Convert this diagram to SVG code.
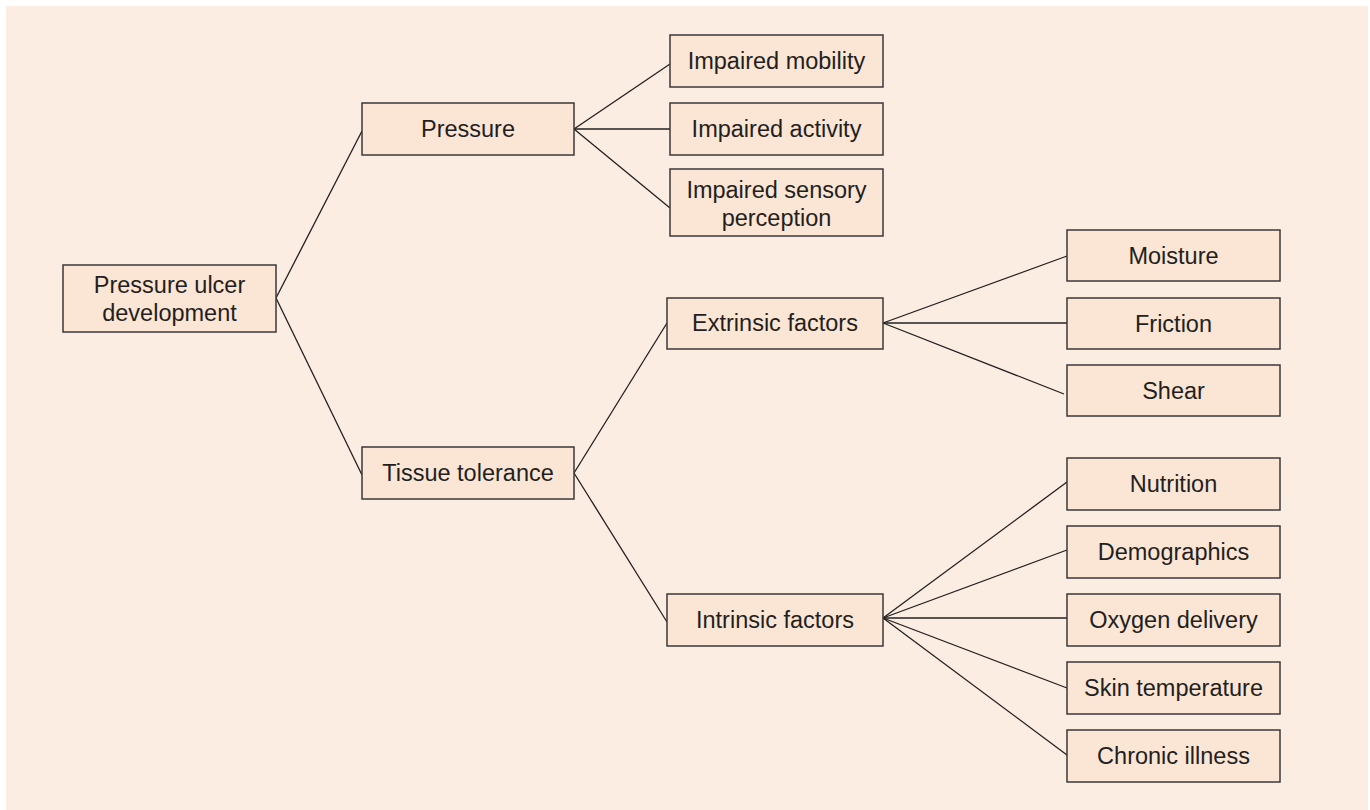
<svg xmlns="http://www.w3.org/2000/svg" width="1370" height="810" viewBox="0 0 1370 810">
<style>
.bg{fill:#fbede1}
.box{fill:#fbe5d5;stroke:#3b3838;stroke-width:1.5}
.lbl{font-family:"Liberation Sans",Arial,sans-serif;font-size:23.5px;fill:#231f20;text-anchor:middle}
.conn line{stroke:#231f20;stroke-width:1.3}
</style>
<rect width="1370" height="810" fill="#ffffff"/>
<rect class="bg" x="6" y="6" width="1362" height="804"/>
<g class="conn" id="connectors">
<line x1="276" y1="298" x2="362" y2="131"/>
<line x1="276" y1="298" x2="362" y2="475"/>
<line x1="574" y1="129" x2="670" y2="64"/>
<line x1="574" y1="129" x2="670" y2="129"/>
<line x1="574" y1="129" x2="670" y2="208"/>
<line x1="574" y1="473" x2="667" y2="323"/>
<line x1="574" y1="473" x2="667" y2="622"/>
<line x1="883" y1="323" x2="1067" y2="256"/>
<line x1="883" y1="323" x2="1067" y2="323"/>
<line x1="883" y1="323" x2="1064" y2="394"/>
<line x1="883" y1="618" x2="1067" y2="482"/>
<line x1="883" y1="618" x2="1067" y2="550"/>
<line x1="883" y1="618" x2="1067" y2="618"/>
<line x1="883" y1="618" x2="1067" y2="688"/>
<line x1="883" y1="618" x2="1067" y2="755"/>
</g>
<g id="n-root"><rect class="box" x="63" y="265" width="213" height="67"/><text class="lbl" x="169.5" y="293">Pressure ulcer</text><text class="lbl" x="169.5" y="321">development</text></g>
<g id="n-pressure"><rect class="box" x="362" y="103" width="212" height="52"/><text class="lbl" x="468" y="137">Pressure</text></g>
<g id="n-tissue"><rect class="box" x="362" y="447" width="212" height="52"/><text class="lbl" x="468" y="481">Tissue tolerance</text></g>
<g id="n-mobility"><rect class="box" x="670" y="35" width="213" height="52"/><text class="lbl" x="776.5" y="69">Impaired mobility</text></g>
<g id="n-activity"><rect class="box" x="670" y="103" width="213" height="52"/><text class="lbl" x="776.5" y="137">Impaired activity</text></g>
<g id="n-sensory"><rect class="box" x="670" y="169" width="213" height="67"/><text class="lbl" x="776.5" y="198">Impaired sensory</text><text class="lbl" x="776.5" y="226">perception</text></g>
<g id="n-extrinsic"><rect class="box" x="667" y="298" width="216" height="51"/><text class="lbl" x="775" y="331">Extrinsic factors</text></g>
<g id="n-intrinsic"><rect class="box" x="667" y="594" width="216" height="52"/><text class="lbl" x="775" y="628">Intrinsic factors</text></g>
<g id="n-moisture"><rect class="box" x="1067" y="230" width="213" height="51"/><text class="lbl" x="1173.5" y="264">Moisture</text></g>
<g id="n-friction"><rect class="box" x="1067" y="298" width="213" height="51"/><text class="lbl" x="1173.5" y="332">Friction</text></g>
<g id="n-shear"><rect class="box" x="1067" y="365" width="213" height="51"/><text class="lbl" x="1173.5" y="399">Shear</text></g>
<g id="n-nutrition"><rect class="box" x="1067" y="458" width="213" height="52"/><text class="lbl" x="1173.5" y="492">Nutrition</text></g>
<g id="n-demographics"><rect class="box" x="1067" y="526" width="213" height="52"/><text class="lbl" x="1173.5" y="560">Demographics</text></g>
<g id="n-oxygen"><rect class="box" x="1067" y="594" width="213" height="52"/><text class="lbl" x="1173.5" y="628">Oxygen delivery</text></g>
<g id="n-skin"><rect class="box" x="1067" y="662" width="213" height="52"/><text class="lbl" x="1173.5" y="696">Skin temperature</text></g>
<g id="n-chronic"><rect class="box" x="1067" y="730" width="213" height="52"/><text class="lbl" x="1173.5" y="764">Chronic illness</text></g>
</svg>
